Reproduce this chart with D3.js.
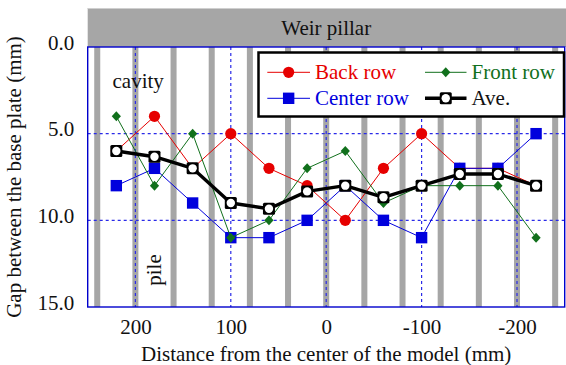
<!DOCTYPE html>
<html>
<head>
<meta charset="utf-8">
<script src="https://cdn.jsdelivr.net/npm/d3@7/dist/d3.min.js"></script>
<style>
  html, body { margin: 0; padding: 0; background: #fff; }
  svg { display: block; }
  text { font-family: "Liberation Serif", "Times New Roman", serif; }
</style>
</head>
<body>
<svg id="chart" width="566" height="365"></svg>
<script>
// Measurement positions along the model (mm)
const positions = [220, 180, 140, 100, 60, 20, -20, -60, -100, -140, -180, -220];
// Gap between the base plate (mm) for each row
const backRow   = [6, 4, 7, 5, 7, 8, 10, 7, 5, 7, 7, 8];
const centerRow = [8, 7, 9, 11, 11, 10, 8, 10, 11, 7, 7, 5];
const frontRow  = [4, 8, 5, 11, 10, 7, 6, 9, 8, 8, 8, 11];
const aveRow    = [6.0, 6.33, 7.0, 9.0, 9.33, 8.33, 8.0, 8.67, 8.0, 7.33, 7.33, 8.0];
// Weir pillar locations (mm)
const pillars = [240, 200, 160, 120, 80, 40, 0, -40, -80, -120, -160, -200, -240];
const xTicks = [200, 100, 0, -100, -200];
const yTicks = [0, 5, 10, 15];
const yGrid = [5, 10];

const svg = d3.select("#chart");
const FS = 21;
const plotLeft = 87.7, plotRight = 564.7, plotTop = 47, plotBottom = 307;

const x = d3.scaleLinear().domain([250, -250]).range([plotLeft, plotRight]);
const y = d3.scaleLinear().domain([0, 15]).range([plotTop, plotBottom]);

const RED = "#e60000", GREEN = "#11701c", BLUE = "#0000dd", GRAY = "#a6a6a6";

// header band
svg.append("rect").attr("x", plotLeft).attr("y", 8).attr("width", 566 - plotLeft).attr("height", plotTop - 8)
  .attr("fill", GRAY);
svg.append("line").attr("x1", plotLeft).attr("x2", 566).attr("y1", 8.5).attr("y2", 8.5)
  .attr("stroke", "#cfcfcf").attr("stroke-width", 1);
svg.append("text").attr("x", (plotLeft + plotRight) / 2).attr("y", 34.5).attr("text-anchor", "middle")
  .attr("font-size", FS).attr("fill", "#111").text("Weir pillar");

// pillars
const pillarWidth = 6.3;
svg.append("g").selectAll("rect").data(pillars).join("rect")
  .attr("x", d => x(d + pillarWidth / 2))
  .attr("y", plotTop)
  .attr("width", Math.abs(x(0) - x(pillarWidth)))
  .attr("height", plotBottom - plotTop)
  .attr("fill", GRAY);

// dotted grid
const grid = svg.append("g").attr("stroke", "#2a2ae8").attr("stroke-width", 1.2)
  .attr("stroke-dasharray", "3,3");
grid.selectAll("line.v").data(xTicks).join("line").attr("class", "v")
  .attr("x1", d => x(d)).attr("x2", d => x(d)).attr("y1", plotTop).attr("y2", plotBottom);
grid.selectAll("line.h").data(yGrid).join("line").attr("class", "h")
  .attr("x1", plotLeft).attr("x2", plotRight).attr("y1", d => y(d)).attr("y2", d => y(d));

// frame
svg.append("rect").attr("x", plotLeft).attr("y", plotTop).attr("width", plotRight - plotLeft)
  .attr("height", plotBottom - plotTop)
  .attr("fill", "none").attr("stroke", "#0000cc").attr("stroke-width", 1.4);

// axes
const xAxis = svg.append("g").attr("transform", `translate(0,${plotBottom})`)
  .call(d3.axisBottom(x).tickValues(xTicks).tickSize(0).tickPadding(12.5).tickFormat(d => String(d)));
xAxis.select(".domain").remove();
xAxis.selectAll("text").attr("font-size", FS).attr("fill", "#111").attr("font-family", "Liberation Serif");

const yAxis = svg.append("g").attr("transform", `translate(${plotLeft},0)`)
  .call(d3.axisLeft(y).tickValues(yTicks).tickSize(0).tickPadding(13.5).tickFormat(d3.format(".1f")));
yAxis.select(".domain").remove();
yAxis.selectAll("text").attr("font-size", FS).attr("fill", "#111").attr("font-family", "Liberation Serif")
  .attr("dy", "0.11em");

// axis titles
svg.append("text").attr("x", (plotLeft + plotRight) / 2).attr("y", 360.5).attr("text-anchor", "middle")
  .attr("font-size", FS).attr("fill", "#111").text("Distance from the center of the model (mm)");
svg.append("text").attr("transform", `translate(21,${(plotTop + plotBottom) / 2}) rotate(-90)`)
  .attr("text-anchor", "middle").attr("font-size", FS).attr("fill", "#111")
  .text("Gap between the base plate (mm)");

// annotations
svg.append("text").attr("x", 112.5).attr("y", 88.3).attr("font-size", FS).attr("fill", "#111").text("cavity");
svg.append("text").attr("transform", "translate(161,270) rotate(-90)").attr("text-anchor", "middle")
  .attr("font-size", FS).attr("fill", "#111").text("pile");

// markers
function drawMarker(g, type, color, cx, cy) {
  if (type === "circle") {
    g.append("circle").attr("cx", cx).attr("cy", cy).attr("r", 5.6).attr("fill", color);
  } else if (type === "square") {
    g.append("rect").attr("x", cx - 5.7).attr("y", cy - 5.7).attr("width", 11.4).attr("height", 11.4).attr("fill", color);
  } else if (type === "diamond") {
    g.append("path").attr("d", `M${cx},${cy - 5}L${cx + 4.6},${cy}L${cx},${cy + 5}L${cx - 4.6},${cy}Z`).attr("fill", color);
  } else if (type === "ave") {
    g.append("rect").attr("x", cx - 6).attr("y", cy - 6).attr("width", 12).attr("height", 12).attr("rx", 1.5).attr("fill", "#000");
    g.append("circle").attr("cx", cx).attr("cy", cy).attr("r", 4.2).attr("fill", "#fff");
  }
}

const series = [
  { name: "Back row",   values: backRow,   color: RED,   marker: "circle",  width: 1 },
  { name: "Center row", values: centerRow, color: BLUE,  marker: "square",  width: 1 },
  { name: "Front row",  values: frontRow,  color: GREEN, marker: "diamond", width: 1 },
  { name: "Ave.",       values: aveRow,    color: "#000", marker: "ave",    width: 3.4 }
];

const line = d3.line().x(d => x(d[0])).y(d => y(d[1]));
series.forEach(s => {
  const pts = positions.map((p, i) => [p, s.values[i]]);
  const g = svg.append("g");
  g.append("path").attr("d", line(pts)).attr("fill", "none").attr("stroke", s.color)
    .attr("stroke-width", s.width).attr("stroke-linejoin", "round");
  pts.forEach(p => drawMarker(g, s.marker, s.color, x(p[0]), y(p[1])));
});

// legend
const lg = svg.append("g");
lg.append("rect").attr("x", 258.5).attr("y", 52.5).attr("width", 305.5).attr("height", 64)
  .attr("fill", "#fff").attr("stroke", "#000").attr("stroke-width", 2.5);
const legendItems = [
  { s: series[0], lx: 267.3, ly: 72.3 },
  { s: series[2], lx: 425,   ly: 72.3 },
  { s: series[1], lx: 267.3, ly: 98.3 },
  { s: series[3], lx: 425,   ly: 98.3 }
];
legendItems.forEach(({ s, lx, ly }) => {
  const len = lx < 300 ? 42.7 : 41.5;
  lg.append("line").attr("x1", lx).attr("x2", lx + len).attr("y1", ly).attr("y2", ly)
    .attr("stroke", s.color).attr("stroke-width", s.width);
  drawMarker(lg, s.marker, s.color, lx + len / 2, ly);
  lg.append("text").attr("x", lx + len + 5).attr("y", ly + 7).attr("font-size", FS)
    .attr("fill", s.color === "#000" ? "#111" : s.color).text(s.name);
});
</script>
</body>
</html>
